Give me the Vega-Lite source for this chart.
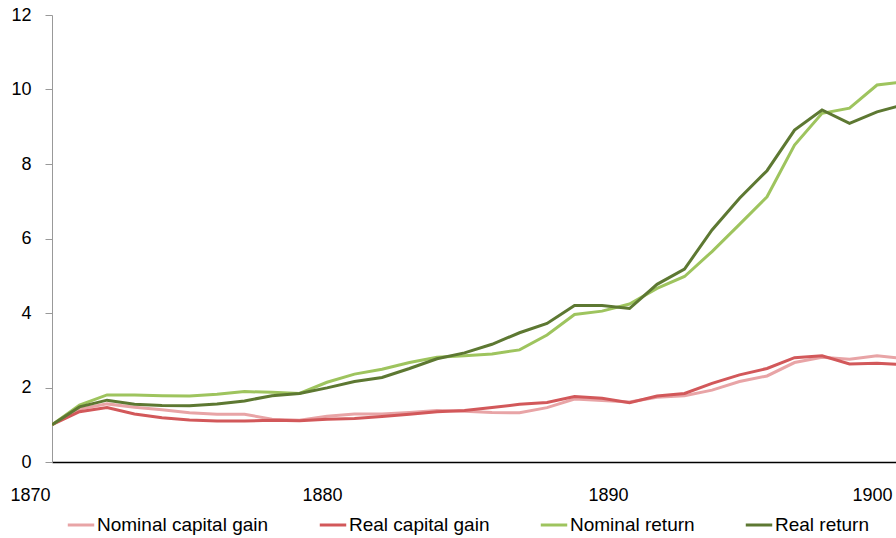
{
  "$schema": "https://vega.github.io/schema/vega-lite/v6.json",
  "autosize": "none",
  "width": 844,
  "height": 447,
  "padding": {"left": 52, "top": 15, "right": 0, "bottom": 76},
  "background": "white",
  "config": {"view": {"stroke": null}, "font": "Liberation Sans"},
  "datasets": {
    "series": [
      {"year": 1870, "Nominal capital gain": 1.0, "Real capital gain": 1.0, "Nominal return": 1.0, "Real return": 1.0},
      {"year": 1871, "Nominal capital gain": 1.42, "Real capital gain": 1.35, "Nominal return": 1.53, "Real return": 1.48},
      {"year": 1872, "Nominal capital gain": 1.56, "Real capital gain": 1.46, "Nominal return": 1.80, "Real return": 1.66},
      {"year": 1873, "Nominal capital gain": 1.47, "Real capital gain": 1.29, "Nominal return": 1.80, "Real return": 1.55},
      {"year": 1874, "Nominal capital gain": 1.40, "Real capital gain": 1.19, "Nominal return": 1.78, "Real return": 1.52},
      {"year": 1875, "Nominal capital gain": 1.32, "Real capital gain": 1.13, "Nominal return": 1.77, "Real return": 1.51},
      {"year": 1876, "Nominal capital gain": 1.28, "Real capital gain": 1.10, "Nominal return": 1.82, "Real return": 1.56},
      {"year": 1877, "Nominal capital gain": 1.28, "Real capital gain": 1.10, "Nominal return": 1.89, "Real return": 1.64},
      {"year": 1878, "Nominal capital gain": 1.15, "Real capital gain": 1.12, "Nominal return": 1.87, "Real return": 1.78},
      {"year": 1879, "Nominal capital gain": 1.12, "Real capital gain": 1.11, "Nominal return": 1.84, "Real return": 1.84},
      {"year": 1880, "Nominal capital gain": 1.23, "Real capital gain": 1.15, "Nominal return": 2.14, "Real return": 1.99},
      {"year": 1881, "Nominal capital gain": 1.29, "Real capital gain": 1.17, "Nominal return": 2.36, "Real return": 2.16},
      {"year": 1882, "Nominal capital gain": 1.29, "Real capital gain": 1.22, "Nominal return": 2.49, "Real return": 2.27},
      {"year": 1883, "Nominal capital gain": 1.33, "Real capital gain": 1.28, "Nominal return": 2.67, "Real return": 2.51},
      {"year": 1884, "Nominal capital gain": 1.38, "Real capital gain": 1.35, "Nominal return": 2.81, "Real return": 2.77},
      {"year": 1885, "Nominal capital gain": 1.36, "Real capital gain": 1.38, "Nominal return": 2.85, "Real return": 2.93},
      {"year": 1886, "Nominal capital gain": 1.33, "Real capital gain": 1.46, "Nominal return": 2.90, "Real return": 3.16},
      {"year": 1887, "Nominal capital gain": 1.32, "Real capital gain": 1.55, "Nominal return": 3.01, "Real return": 3.47},
      {"year": 1888, "Nominal capital gain": 1.46, "Real capital gain": 1.60, "Nominal return": 3.41, "Real return": 3.72},
      {"year": 1889, "Nominal capital gain": 1.69, "Real capital gain": 1.76, "Nominal return": 3.96, "Real return": 4.20},
      {"year": 1890, "Nominal capital gain": 1.65, "Real capital gain": 1.71, "Nominal return": 4.05, "Real return": 4.20},
      {"year": 1891, "Nominal capital gain": 1.61, "Real capital gain": 1.59, "Nominal return": 4.24, "Real return": 4.12},
      {"year": 1892, "Nominal capital gain": 1.74, "Real capital gain": 1.77, "Nominal return": 4.66, "Real return": 4.77},
      {"year": 1893, "Nominal capital gain": 1.78, "Real capital gain": 1.84, "Nominal return": 4.98, "Real return": 5.18},
      {"year": 1894, "Nominal capital gain": 1.93, "Real capital gain": 2.11, "Nominal return": 5.65, "Real return": 6.23},
      {"year": 1895, "Nominal capital gain": 2.16, "Real capital gain": 2.34, "Nominal return": 6.38, "Real return": 7.08},
      {"year": 1896, "Nominal capital gain": 2.31, "Real capital gain": 2.51, "Nominal return": 7.12, "Real return": 7.82},
      {"year": 1897, "Nominal capital gain": 2.67, "Real capital gain": 2.80, "Nominal return": 8.51, "Real return": 8.91},
      {"year": 1898, "Nominal capital gain": 2.81, "Real capital gain": 2.85, "Nominal return": 9.36, "Real return": 9.45},
      {"year": 1899, "Nominal capital gain": 2.76, "Real capital gain": 2.63, "Nominal return": 9.50, "Real return": 9.09},
      {"year": 1900, "Nominal capital gain": 2.85, "Real capital gain": 2.65, "Nominal return": 10.12, "Real return": 9.40},
      {"year": 1901, "Nominal capital gain": 2.78, "Real capital gain": 2.61, "Nominal return": 10.21, "Real return": 9.60}
    ]
  },
  "data": {"name": "series"},
  "transform": [
    {"fold": ["Nominal capital gain", "Real capital gain", "Nominal return", "Real return"], "as": ["series", "value"]}
  ],
  "mark": {"type": "line", "strokeWidth": 3, "clip": true},
  "encoding": {
    "x": {
      "field": "year", "type": "quantitative",
      "scale": {"domain": [1870, 1900.69], "nice": false, "zero": false},
      "axis": {
        "title": null, "values": [1870, 1880, 1890, 1900], "format": "d",
        "grid": false, "ticks": false, "domainColor": "#000000", "domainWidth": 1.5,
        "labelFontSize": 18, "labelColor": "#000000", "labelPadding": 24, "labelFlush": false,
        "labelAlign": {"expr": "datum.value == 1870 ? 'right' : 'center'"},
        "labelOffset": {"expr": "datum.value == 1870 ? -2 : datum.value == 1890 ? 6 : -5"}
      }
    },
    "y": {
      "field": "value", "type": "quantitative",
      "scale": {"domain": [0, 12], "nice": false},
      "axis": {
        "title": null, "values": [0, 2, 4, 6, 8, 10, 12],
        "grid": false, "ticks": true, "tickSize": 7, "tickColor": "#999999",
        "domainColor": "#999999", "labelFontSize": 18, "labelColor": "#000000",
        "labelPadding": 14
      }
    },
    "color": {
      "field": "series", "type": "nominal",
      "scale": {
        "domain": ["Nominal capital gain", "Real capital gain", "Nominal return", "Real return"],
        "range": ["#E8A4A6", "#D2585A", "#9EC45E", "#5D7832"]
      },
      "legend": {
        "title": null, "orient": "none", "legendX": 14, "legendY": 495,
        "direction": "horizontal", "symbolType": "stroke", "symbolSize": 700,
        "symbolStrokeWidth": 3, "labelFontSize": 19, "labelColor": "#000000",
        "labelOffset": 1, "columnPadding": 44, "labelLimit": 400
      }
    }
  }
}
